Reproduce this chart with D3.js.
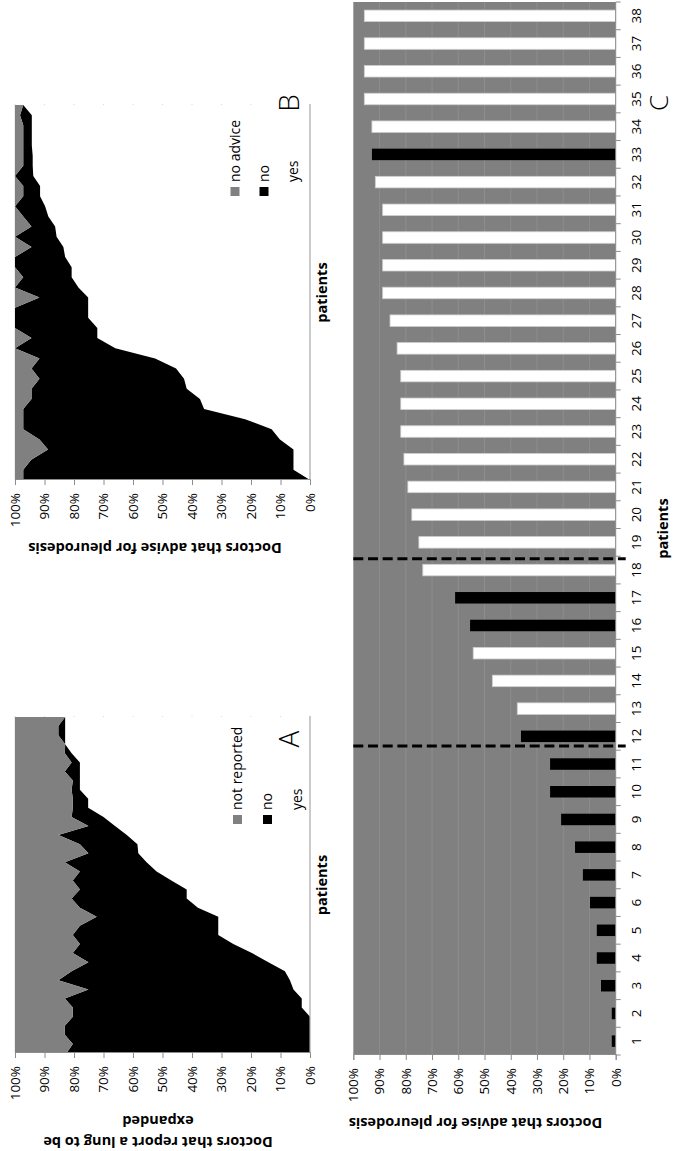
<!DOCTYPE html>
<html>
<head>
<meta charset="utf-8">
<script src="https://cdn.jsdelivr.net/npm/d3@7/dist/d3.min.js"></script>
<style>
  html, body { margin: 0; padding: 0; background: #fff; }
  svg { display: block; }
</style>
</head>
<body>
<svg id="fig" width="677" height="1151"></svg>
<script>
// ---- data ----
const patients = [1,2,3,4,5,6,7,8,9,10,11,12,13,14,15,16,17,18,19,20,21,22,23,24,25,26,27,28,29,30,31,32,33,34,35,36,37,38];
const pctTicks = [0,10,20,30,40,50,60,70,80,90,100];

// A: doctors that report a lung to be expanded (% per patient)
const lungYes = [0,0,0,0,0,2.8,2.8,5.6,6.8,8.5,14.1,19.7,26,31.1,31.1,31.1,38,41.8,41.8,47,52,55.4,58.2,58.5,62.1,66.1,70,75.2,75.2,78,78,78,78,80.8,83,83,83,83];
const lungNo = [82.5,80.4,83.1,83.1,80.4,77.6,80.3,69.5,78.5,72.3,61,60.7,52,49.3,46.9,41.2,40,39,36.2,33.4,26,27.7,16.9,19.5,23.2,9,10.8,5.2,5.2,2.8,2.4,5.1,2.8,2.3,0,2.3,2.3,0];
const lungNotReported = [17.5,19.6,16.9,16.9,19.6,19.6,16.9,24.9,14.7,19.2,24.9,19.6,22,19.6,22,27.7,22,19.2,22,19.6,22,16.9,24.9,22,14.7,24.9,19.2,19.6,19.6,19.2,19.6,16.9,19.2,16.9,17,14.7,14.7,17];
const lungLegend = ['not reported', 'no', 'yes'];

// B: doctors that advise for pleurodesis (% per patient)
const adviceYes = [0,5.6,5.6,5.6,10.2,13,22,35.9,37.3,41.8,42.7,45.4,52.5,66,72.1,72.1,75.2,75.2,75.2,78.5,80.8,80.8,83,83.6,85.9,86.4,88.7,89.8,91.5,91.5,93.8,94,94,94.3,94.3,94.3,94.3,97.2];
const adviceNo = [97.2,91.6,88.9,83.2,81.5,84.2,75.2,61.3,57.1,52.6,49,49,39.2,34,22.3,27.9,24.8,24.8,16.5,21.5,16.4,19.2,17,10.8,14.1,8,8.5,10.2,5.7,5.7,6.2,3.2,3.2,2.9,2.9,2.9,4,0];
const adviceNone = [2.8,2.8,5.5,11.2,8.3,2.8,2.8,2.8,5.6,5.6,8.3,5.6,8.3,0,5.6,0,0,0,8.3,0,2.8,0,0,5.6,0,5.6,2.8,0,2.8,2.8,0,2.8,2.8,2.8,2.8,2.8,1.7,2.8];
const adviceLegend = ['no advice', 'no', 'yes'];

// C: doctors that advise for pleurodesis, one bar per patient
const pleurodesis = [1.5,1.5,5.6,7.2,7.2,9.8,12.5,15.5,20.8,25,25,36.1,37.5,47,54.3,55.5,61.2,73.5,75,77.7,79.2,80.7,81.9,81.9,81.9,83.3,86,88.8,88.8,88.8,88.8,91.6,92.9,92.9,95.8,95.8,95.8,95.8];
const blackBars = [1,2,3,4,5,6,7,8,9,10,11,12,16,17,33];
const dividers = [11.15, 17.91]; // group separators, in patient-band units

// ---- drawing ----
const W = 1151, H = 677;              // landscape figure, shown turned on its side
const FONT = "'Open Sans', 'Noto Sans', sans-serif";
const GREY = '#808080', AXIS = '#8c8c8c';

const svg = d3.select('#fig');
const g = svg.append('g').attr('transform', `translate(0,${W}) rotate(-90)`)
  .style('font-family', FONT);

function styleAxis(sel) {
  sel.select('.domain').attr('stroke', AXIS);
  sel.selectAll('.tick line').attr('stroke', AXIS);
  sel.selectAll('.tick text').attr('fill', '#000').style('font-size', '13.5px').style('font-family', FONT);
}

function areaPanel(cfg) {
  const gp = g.append('g');
  const x = d3.scalePoint().domain(patients).range([cfg.x0, cfg.x1]);
  const y = d3.scaleLinear().domain([0, 100]).range([310, 15]);

  // light horizontal gridlines underneath the stacked areas
  gp.append('g').selectAll('line').data(pctTicks.slice(1)).join('line')
    .attr('x1', cfg.x0).attr('x2', cfg.x1 + 1)
    .attr('y1', d => y(d)).attr('y2', d => y(d))
    .attr('stroke', '#d9d9d9').attr('stroke-width', 1);

  const rows = patients.map((p, i) => ({ patient: p, yes: cfg.yes[i], no: cfg.no[i], other: cfg.other[i] }));
  const layers = d3.stack().keys(['yes', 'no', 'other'])(rows);
  const area = d3.area()
    .x(d => x(d.data.patient))
    .y0(d => y(d[0]))
    .y1(d => y(d[1]));
  const fills = ['#ffffff', '#000000', GREY];
  gp.append('g').selectAll('path').data(layers).join('path')
    .attr('d', area).attr('fill', (d, i) => fills[i]);

  // category baseline
  gp.append('line').attr('x1', cfg.x0).attr('x2', cfg.x1 + 1)
    .attr('y1', y(0)).attr('y2', y(0)).attr('stroke', '#a6a6a6').attr('stroke-width', 1.2);

  // value axis
  gp.append('g').attr('transform', `translate(${cfg.x0},0)`)
    .call(d3.axisLeft(y).tickValues(pctTicks).tickFormat(d => d + '%').tickSize(5).tickPadding(8))
    .call(styleAxis);

  // axis title
  const t = gp.append('text').attr('text-anchor', 'middle')
    .attr('transform', `translate(${cfg.titleX},${cfg.titleY}) rotate(-90)`)
    .style('font-size', '14.5px').style('font-weight', 'bold');
  cfg.title.forEach((line, i) => t.append('tspan').attr('x', 0).attr('dy', i === 0 ? 0 : 21).text(line));

  // category title
  gp.append('text').attr('x', (cfg.x0 + cfg.x1) / 2).attr('y', 327)
    .attr('text-anchor', 'middle').style('font-size', '14.5px').style('font-weight', 'bold')
    .text('patients');

  // legend
  const lg = gp.append('g').attr('transform', `translate(${cfg.legendX},0)`);
  const legendFill = [GREY, '#000000', '#ffffff'];
  cfg.legend.forEach((label, i) => {
    const cy = cfg.legendY[i];
    lg.append('rect').attr('x', 0).attr('y', cy - 4.5).attr('width', 9).attr('height', 9).attr('fill', legendFill[i]);
    lg.append('text').attr('x', 14).attr('y', cy).attr('dy', '0.35em')
      .style('font-size', '14px').text(label);
  });

  // panel letter
  gp.append('text').attr('x', cfg.letterX).attr('y', 299).attr('text-anchor', 'middle')
    .style('font-size', '28px').style('font-weight', 300).text(cfg.letter);
}

areaPanel({
  x0: 98, x1: 434,
  yes: lungYes, no: lungNo, other: lungNotReported,
  title: ['Doctors that report a lung to be', 'expanded'], titleX: 14, titleY: 158,
  legend: lungLegend, legendX: 327, legendY: [237.5, 267.5, 297.5],
  letter: 'A', letterX: 412
});

areaPanel({
  x0: 671, x1: 1046,
  yes: adviceYes, no: adviceNo, other: adviceNone,
  title: ['Doctors that advise for pleurodesis'], titleX: 608, titleY: 155,
  legend: adviceLegend, legendX: 955, legendY: [235, 264, 293],
  letter: 'B', letterX: 1048
});

// ---- panel C: bars ----
(function () {
  const gc = g.append('g');
  const x = d3.scaleBand().domain(patients).range([96, 1149]).paddingInner(0.585).paddingOuter(0.2925);
  const y = d3.scaleLinear().domain([0, 100]).range([615.7, 353.3]);
  const [r0, r1] = x.range();
  const unit = d3.scaleLinear().domain([0, patients.length]).range([r0, r1]);

  gc.append('rect').attr('x', r0).attr('y', y(100)).attr('width', r1 - r0).attr('height', y(0) - y(100)).attr('fill', GREY);
  gc.append('g').selectAll('line').data(pctTicks.slice(1, -1)).join('line')
    .attr('x1', r0).attr('x2', r1).attr('y1', d => y(d)).attr('y2', d => y(d))
    .attr('stroke', '#8d8d8d').attr('stroke-width', 1);

  gc.append('g').selectAll('rect').data(patients).join('rect')
    .attr('x', d => x(d)).attr('width', x.bandwidth())
    .attr('y', (d, i) => y(pleurodesis[i])).attr('height', (d, i) => y(0) - y(pleurodesis[i]))
    .attr('fill', d => blackBars.includes(d) ? '#000' : '#fff')
    .attr('stroke', d => blackBars.includes(d) ? 'none' : '#cfcfcf').attr('stroke-width', 0.8);

  // category axis: ticks between patients, labels centred on bars
  gc.append('line').attr('x1', r0).attr('x2', r1).attr('y1', y(0)).attr('y2', y(0)).attr('stroke', AXIS);
  gc.append('g').selectAll('line').data(d3.range(patients.length + 1)).join('line')
    .attr('x1', d => unit(d)).attr('x2', d => unit(d)).attr('y1', y(0)).attr('y2', y(0) + 5).attr('stroke', AXIS);
  gc.append('g').attr('transform', `translate(0,${y(0)})`)
    .call(d3.axisBottom(x).tickSize(0).tickPadding(16))
    .call(s => s.select('.domain').remove())
    .call(styleAxis);

  // value axis
  gc.append('g').attr('transform', `translate(${r0},0)`)
    .call(d3.axisLeft(y).tickValues(pctTicks).tickFormat(d => d + '%').tickSize(5).tickPadding(8))
    .call(styleAxis);

  // dashed group separators
  gc.append('g').selectAll('line').data(dividers).join('line')
    .attr('x1', d => unit(d)).attr('x2', d => unit(d))
    .attr('y1', y(100)).attr('y2', y(0) + 10)
    .attr('stroke', '#000').attr('stroke-width', 3).attr('stroke-dasharray', '10,4.7');

  gc.append('text').attr('text-anchor', 'middle')
    .attr('transform', `translate(33,475.5) rotate(-90)`)
    .style('font-size', '14.5px').style('font-weight', 'bold')
    .text('Doctors that advise for pleurodesis');

  gc.append('text').attr('x', (r0 + r1) / 2).attr('y', 668).attr('text-anchor', 'middle')
    .style('font-size', '14.5px').style('font-weight', 'bold').text('patients');

  gc.append('text').attr('x', 1048).attr('y', 668).attr('text-anchor', 'middle')
    .style('font-size', '26px').style('font-weight', 300).text('C');
})();
</script>
</body>
</html>
